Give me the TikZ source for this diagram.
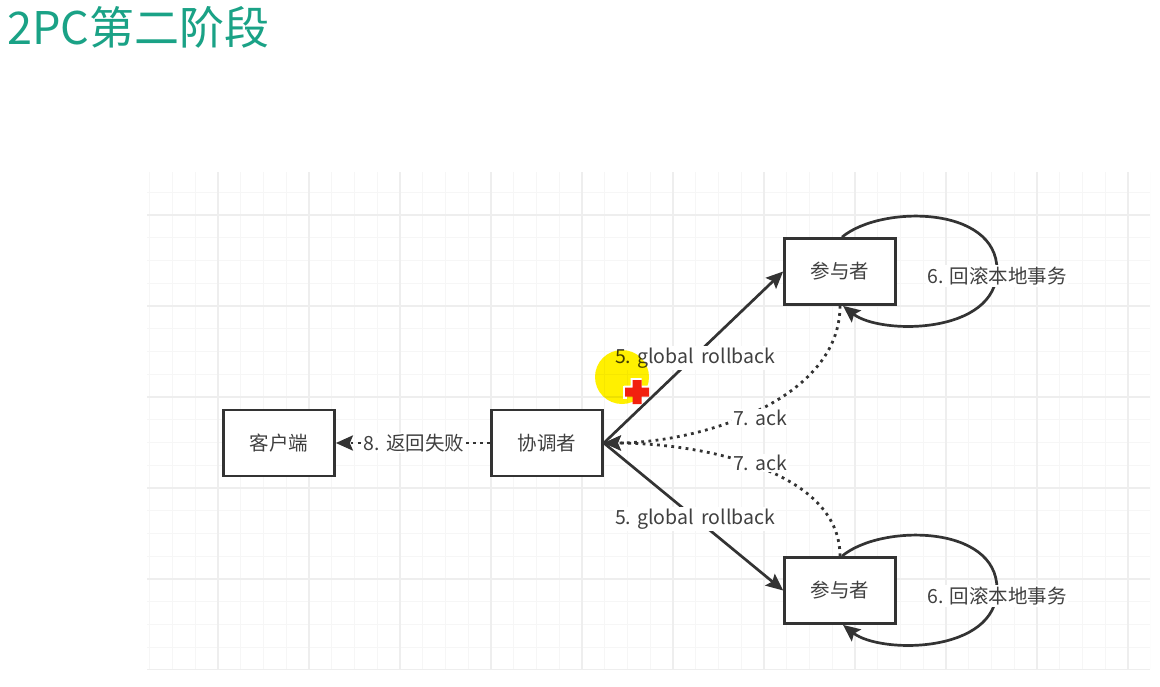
\documentclass[tikz,border=0pt]{standalone}
\usepackage{fontspec}
\setmainfont{Noto Sans CJK SC}
\usetikzlibrary{arrows.meta}
\definecolor{titlegreen}{HTML}{1AA286}
\definecolor{ink}{HTML}{333333}
\definecolor{txt}{HTML}{404040}
\definecolor{gridminor}{HTML}{F6F6F6}
\definecolor{gridmajor}{HTML}{EEEEEE}
\definecolor{hiyellow}{HTML}{FFF000}
\definecolor{crossred}{HTML}{F2200F}
\begin{document}
\begin{tikzpicture}[x=1pt,y=-1pt,
  box/.style={draw=ink, line width=2.7pt, fill=white, minimum width=111pt, minimum height=66pt,
    text=txt, font=\fontsize{19.5}{23}\selectfont},
  lbl/.style={fill=white, text=txt, inner sep=1.5pt, font=\fontsize{19.5}{23}\selectfont},
  arr/.style={draw=ink, line width=2.7pt, -{Stealth[length=17pt,width=15pt,inset=3pt]}},
  dotarr/.style={draw=ink, line width=2.8pt, dash pattern=on 2.8pt off 4.4pt,
    -{Stealth[length=17pt,width=15pt,inset=3pt]}},
  loopline/.style={draw=ink, line width=2.7pt, -{Stealth[length=17pt,width=15pt,inset=3pt]}}
]
\useasboundingbox (0,0) rectangle (1160,686);
\fill[white] (0,0) rectangle (1160,686);
% grid
\begin{scope}
\clip (147,172) rectangle (1150,669);
\foreach \i in {0,...,44} { \draw[gridminor, line width=1pt] ({149.75+22.75*\i},172) -- ++(0,497); }
\foreach \j in {0,...,22} { \draw[gridminor, line width=1pt] (147,{169.5+22.75*\j}) -- ++(1003,0); }
\foreach \i in {0,...,10} { \draw[gridmajor, line width=1.2pt] ({218+91*\i},172) -- ++(0,497); }
\foreach \j in {0,...,5} { \draw[gridmajor, line width=1.2pt] (147,{215+91*\j}) -- ++(1003,0); }
\end{scope}
% title
\node[anchor=west, text=titlegreen, inner sep=0pt, font=\fontsize{45}{50}\selectfont] (title) at (7,27) {2PC第二阶段};
% nodes
\node[box] (client) at (279,443) {客户端};
\node[box] (coord) at (547,443) {协调者};
\node[box] (p1) at (840,271.5) {参与者};
\node[box] (p2) at (840,590.5) {参与者};
% connectors
\draw[arr] (coord.east) -- (p1.west);
\draw[arr] (coord.east) -- (p2.west);
\draw[dotarr] (p1.south) .. controls (840,400) and (700,443) .. (coord.east);
\draw[dotarr] (p2.north) .. controls (840,470) and (700,443) .. (coord.east);
\draw[dotarr] (coord.west) -- (client.east);
\draw[loopline] ([xshift=2pt]p1.north) .. controls (880,205) and (997,205) .. (997,270)
  .. controls (997,335) and (880,335) .. ([xshift=3pt]p1.south);
\draw[loopline] ([xshift=2pt]p2.north) .. controls (880,524) and (997,524) .. (997,589)
  .. controls (997,654) and (880,654) .. ([xshift=3pt]p2.south);
% labels
\node[lbl] (l5a) at (695,358) {5. global\, rollback};
\node[lbl] (l5b) at (695,519) {5. global\, rollback};
\node[lbl] (l7a) at (760,418) {7. ack};
\node[lbl] (l7b) at (760,463) {7. ack};
\node[lbl] (l8) at (414,443) {8. 返回失败};
\node[lbl] (l6a) at (997,276) {6. 回滚本地事务};
\node[lbl] (l6b) at (997,596) {6. 回滚本地事务};
% cursor highlight
\begin{scope}[blend mode=multiply]
\fill[hiyellow] (622,377) circle (27);
\end{scope}
\fill[white] (630.5,378) -- (641.5,378) -- (641.5,385.5) -- (649,385.5) -- (649,389) -- (624,389) -- (624,385.5) -- (630.5,385.5) -- cycle;
\fill[white] (623,385.5) rectangle (626.5,398.5);
\fill[crossred] (632.5,380) -- (641.5,380) -- (641.5,387.5) -- (649,387.5) -- (649,396.5) -- (641.5,396.5)
  -- (641.5,404) -- (632.5,404) -- (632.5,396.5) -- (625,396.5) -- (625,387.5) -- (632.5,387.5) -- cycle;
\end{tikzpicture}
\end{document}
